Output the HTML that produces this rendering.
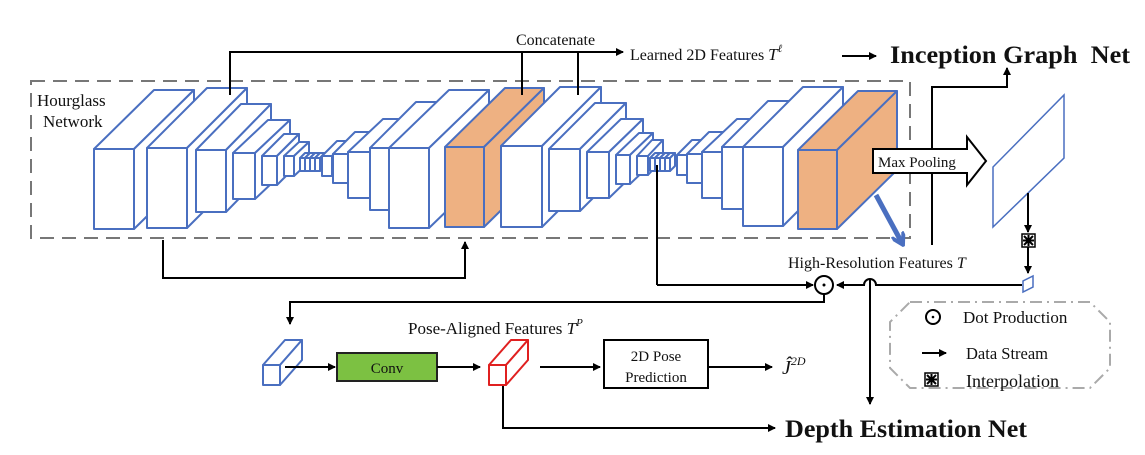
<!DOCTYPE html>
<html><head><meta charset="utf-8"><style>
html,body{margin:0;padding:0;background:#fff;}
svg{display:block;}
text{font-family:"Liberation Serif",serif;fill:#111;}
</style></head><body>
<svg id="s" width="1145" height="455" viewBox="0 0 1145 455" xmlns="http://www.w3.org/2000/svg">
<defs>
<marker id="ah" markerWidth="8" markerHeight="8" refX="7" refY="4" orient="auto" markerUnits="userSpaceOnUse">
<path d="M0,0 L8,4 L0,8 Z" fill="#000"/></marker>
<marker id="bh" markerWidth="14" markerHeight="14" refX="10" refY="7" orient="auto" markerUnits="userSpaceOnUse">
<path d="M0,0 L12,7 L0,14" fill="none" stroke="#4a6fc0" stroke-width="4"/></marker>
</defs>
<rect x="31" y="81" width="879" height="157" fill="none" stroke="#777" stroke-width="2" stroke-dasharray="14,8"/>
<g id="cubes"></g>
<text x="37" y="106" font-size="17">Hourglass</text>
<text x="43" y="127" font-size="17">Network</text>

<polyline points="230,95 230,52 623,52" fill="none" stroke="#000" stroke-width="2" marker-end="url(#ah)"/>
<line x1="522" y1="95" x2="522" y2="52" stroke="#000" stroke-width="2"/>
<line x1="578" y1="95" x2="578" y2="52" stroke="#000" stroke-width="2"/>
<text x="516" y="45" font-size="16">Concatenate</text>
<text x="630" y="60" font-size="16">Learned 2D Features <tspan font-style="italic" font-size="17">T</tspan><tspan font-size="11" dy="-8" font-style="italic">ℓ</tspan></text>
<line x1="842" y1="56" x2="876" y2="56" stroke="#000" stroke-width="2" marker-end="url(#ah)"/>
<text x="890" y="63" font-size="25" font-weight="bold" textLength="240" lengthAdjust="spacingAndGlyphs" xml:space="preserve">Inception Graph  Net</text>

<polyline points="163,240 163,278 465,278 465,242" fill="none" stroke="#000" stroke-width="2" marker-end="url(#ah)"/>

<line x1="876" y1="195" x2="902" y2="243" stroke="#4a6fc0" stroke-width="5" marker-end="url(#bh)"/>

<polyline points="932,245 932,87 1007,87 1007,68" fill="none" stroke="#000" stroke-width="2" marker-end="url(#ah)"/>

<polygon points="873,149 967,149 967,137 986,161 967,185 967,173 873,173" fill="#fff" stroke="#000" stroke-width="2"/>
<text x="878" y="167" font-size="15">Max Pooling</text>

<polygon points="993,227 993,167 1064,95 1064,158" fill="#fff" stroke="#4a6fc0" stroke-width="1.5"/>
<line x1="1028" y1="193" x2="1028" y2="232" stroke="#000" stroke-width="2" marker-end="url(#ah)"/>
<rect x="1022" y="234" width="13" height="13" fill="#fff" stroke="#000" stroke-width="1.5"/>
<path d="M1024,236 L1033,245 M1033,236 L1024,245 M1028.5,235 L1028.5,246 M1023,240.5 L1034,240.5" stroke="#000" stroke-width="2"/>
<line x1="1028" y1="247" x2="1028" y2="273" stroke="#000" stroke-width="2" marker-end="url(#ah)"/>
<polygon points="1023,292 1023,281 1033,276 1033,287" fill="#fff" stroke="#4a6fc0" stroke-width="1.5"/>

<text x="788" y="268" font-size="16">High-Resolution Features <tspan font-style="italic">T</tspan></text>

<line x1="657" y1="165" x2="657" y2="285" stroke="#000" stroke-width="2"/>
<line x1="657" y1="285" x2="813" y2="285" stroke="#000" stroke-width="2" marker-end="url(#ah)"/>
<path d="M1022,285 L876,285 A6,6 0 0 0 864,285 L837,285" fill="none" stroke="#000" stroke-width="2" marker-end="url(#ah)"/>
<circle cx="824" cy="285" r="9" fill="#fff" stroke="#000" stroke-width="2"/>
<circle cx="824" cy="285" r="1.5" fill="#000"/>
<line x1="870" y1="280" x2="870" y2="404" stroke="#000" stroke-width="2" marker-end="url(#ah)"/>
<polyline points="824,294 824,302 290,302 290,324" fill="none" stroke="#000" stroke-width="2" marker-end="url(#ah)"/>

<g id="cubes2"></g>
<line x1="285" y1="367" x2="335" y2="367" stroke="#000" stroke-width="2" marker-end="url(#ah)"/>
<rect x="337" y="353" width="100" height="28" fill="#7cc142" stroke="#222" stroke-width="2"/>
<text x="387" y="373" font-size="15" text-anchor="middle">Conv</text>
<line x1="437" y1="367" x2="480" y2="367" stroke="#000" stroke-width="2" marker-end="url(#ah)"/>
<text x="408" y="334" font-size="17">Pose-Aligned Features <tspan font-style="italic">T</tspan><tspan font-size="11" dy="-8" font-style="italic">P</tspan></text>
<line x1="540" y1="367" x2="600" y2="367" stroke="#000" stroke-width="2" marker-end="url(#ah)"/>
<rect x="604" y="340" width="104" height="48" fill="#fff" stroke="#000" stroke-width="2"/>
<text x="656" y="361" font-size="15" text-anchor="middle">2D Pose</text>
<text x="656" y="382" font-size="15" text-anchor="middle">Prediction</text>
<line x1="708" y1="367" x2="772" y2="367" stroke="#000" stroke-width="2" marker-end="url(#ah)"/>
<text x="782" y="374" font-size="20" font-style="italic">Ĵ<tspan font-size="12" dy="-9">2D</tspan></text>
<polyline points="503,386 503,428 775,428" fill="none" stroke="#000" stroke-width="2" marker-end="url(#ah)"/>
<text x="785" y="437" font-size="25" font-weight="bold" textLength="242" lengthAdjust="spacingAndGlyphs">Depth Estimation Net</text>

<polygon points="910,302 1090,302 1110,322 1110,368 1090,388 910,388 890,368 890,322" fill="none" stroke="#aaa" stroke-width="2" stroke-dasharray="12,5,2,5"/>
<circle cx="933" cy="317" r="7" fill="#fff" stroke="#000" stroke-width="2"/>
<circle cx="933" cy="317" r="1.3" fill="#000"/>
<text x="963" y="323" font-size="17">Dot Production</text>
<line x1="922" y1="353" x2="946" y2="353" stroke="#000" stroke-width="2" marker-end="url(#ah)"/>
<text x="966" y="359" font-size="16.5">Data Stream</text>
<rect x="925" y="373" width="13" height="13" fill="#fff" stroke="#000" stroke-width="1.5"/>
<path d="M927,375 L936,384 M936,375 L927,384 M931.5,374 L931.5,385 M926,379.5 L937,379.5" stroke="#000" stroke-width="2"/>
<text x="966" y="387" font-size="18">Interpolation</text>
</svg>
<script>
(function(){
var NS="http://www.w3.org/2000/svg";
function cub(g,x,y,w,h,dx,dy,fill,stroke,sw){
 var faces=[
  [[x,y],[x+dx,y-dy],[x+w+dx,y-dy],[x+w,y]],
  [[x+w,y],[x+w+dx,y-dy],[x+w+dx,y+h-dy],[x+w,y+h]],
  [[x,y],[x+w,y],[x+w,y+h],[x,y+h]]];
 faces.forEach(function(f){
  var p=document.createElementNS(NS,"polygon");
  p.setAttribute("points",f.map(function(a){return a.join(",");}).join(" "));
  p.setAttribute("fill",fill);p.setAttribute("stroke",stroke);
  p.setAttribute("stroke-width",sw);p.setAttribute("stroke-linejoin","round");
  g.appendChild(p);
 });
}
var g=document.getElementById("cubes"),B="#4a6fc0",W="#fff",O="#eeb182";
var L=[
[94,149,40,80,60,59,W],[147,148,40,80,60,60,W],[196,150,30,62,45,46,W],[233,153,22,46,35,33,W],
[262,156,15,29,22,22,W],[284,156,10,20,15,14,W],
[300,158,5,13,5,5,W],[305,158,5,13,5,5,W],[310,158,5,13,5,5,W],[315,158,5,13,5,5,W],
[322,156,10,20,15,15,W],[333,154,15,29,22,22,W],[348,152,22,46,35,33,W],[370,148,31,62,46,46,W],
[389,148,40,80,60,58,W],[445,147,39,80,60,59,O],
[501,146,41,81,59,59,W],[549,149,31,62,46,46,W],[587,152,22,46,34,33,W],[616,155,14,29,23,22,W],
[637,156,11,19,15,16,W],
[650,158,5,13,5,5,W],[655,158,5,13,5,5,W],[660,158,5,13,5,5,W],[665,158,5,13,5,5,W],
[677,155,10,20,15,15,W],[687,154,15,29,22,22,W],[702,152,21,46,35,33,W],[722,147,31,62,46,46,W],
[743,147,40,79,60,60,W],[798,150,39,79,60,59,O]];
L.forEach(function(c){cub(g,c[0],c[1],c[2],c[3],c[4],c[5],c[6],B,2);});
var g2=document.getElementById("cubes2");
cub(g2,263,365,17,20,22,25,W,B,2);
cub(g2,489,365,17,20,22,25,W,"#e02020",2);
})();
</script>
</body></html>
